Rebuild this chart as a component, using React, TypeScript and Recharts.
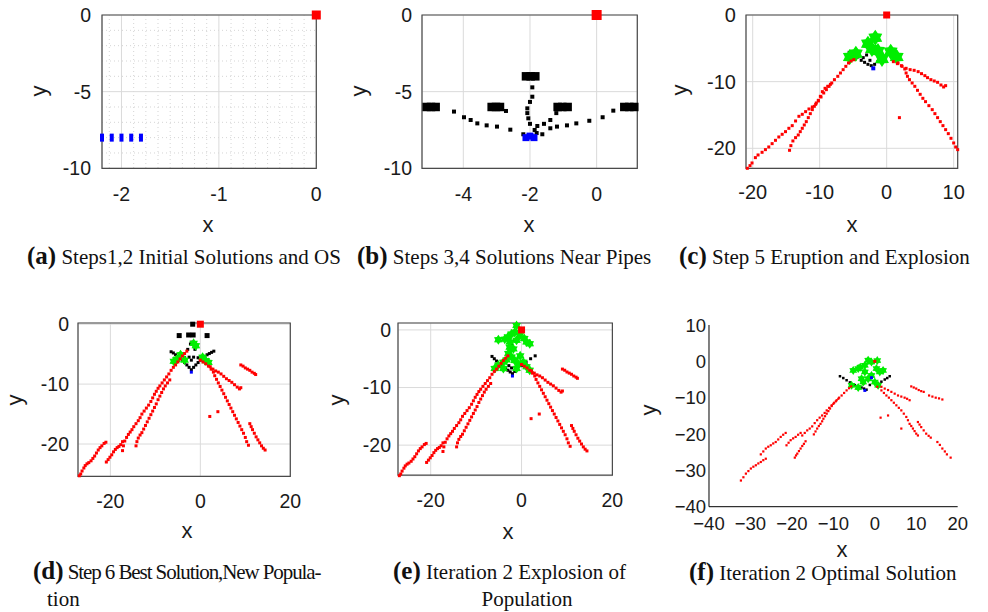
import { ScatterChart, Scatter, XAxis, YAxis, CartesianGrid, ReferenceArea } from "recharts";

type Pt = [number, number];

// (a) Steps 1,2 – initial solutions and optimal solution (OS)
const aCandidates: Pt[] = [[-2.2, -8], [-2.1, -8], [-2, -8], [-1.9, -8], [-1.8, -8]];
const aOptimal: Pt[] = [[0, 0]];
const aXTicks = [-2, -1, 0];
const aYTicks = [-10, -5, 0];
const aMinorX = [-2.125, -1.875, -1.75, -1.625, -1.5, -1.375, -1.25, -1.125, -0.875, -0.75, -0.625, -0.5, -0.375, -0.25, -0.125];
const aMinorY = [-9, -8, -7, -6, -4, -3, -2, -1];

// (b) Steps 3,4 – solutions near pipes
const bPipes: Pt[] = [
  [-5.1, -6], [-4.97, -6], [-4.83, -6], [-3.15, -6], [-3.02, -6], [-2.9, -6],
  [-2.12, -4], [-1.98, -4], [-1.84, -4], [-1.17, -6], [-1.03, -6], [-0.87, -6],
  [0.83, -6], [0.98, -6], [1.13, -6],
];
const bNear: Pt[] = [
  [-4.28, -6.3], [-3.98, -6.67], [-3.78, -6.85], [-3.58, -7.07], [-3.3, -7.2], [-2.99, -7.28],
  [-2.59, -7.48], [-2.2, -7.78], [-1.63, -7.78], [-1.39, -7.39], [-1.19, -7.28], [-0.89, -7.2],
  [-0.61, -7.07], [-0.22, -6.9], [0.18, -6.67], [0.5, -6.24], [-2.72, -6.26],
  [-1.93, -4.72], [-1.93, -5.33], [-2, -5.67], [-2.08, -6.09], [-2.08, -6.4], [-2.05, -6.74],
  [-2, -7.1], [-1.21, -6.4], [-1.39, -6.85], [-1.58, -7.1], [-1.78, -7.24], [-1.86, -7.5], [-1.8, -7.7],
];
const bBlue: Pt[] = [[-2.12, -8], [-2, -7.9], [-1.88, -8]];
const bOptimal: Pt[] = [[0, 0]];
const bXTicks = [-4, -2, 0];
const bYTicks = [-10, -5, 0];

// (c) Step 5 – eruption and explosion
const cRedLeftOuter: Pt[] = [
  [-20.8, -23], [-20.4, -22.6], [-20.1, -22.2], [-19.6, -21.4], [-19.2, -21], [-18.6, -20.6],
  [-18.1, -20.2], [-17.6, -19.8], [-17.1, -19.3], [-16.6, -18.8], [-16.1, -18.3], [-15.6, -17.9],
  [-15.1, -17.5], [-14.6, -17], [-14.1, -16.6], [-13.6, -15.9], [-13.1, -15.2], [-12.6, -14.9],
  [-12.1, -14.5], [-11.6, -14.1], [-11.1, -13.8], [-10.6, -13.4], [-10.2, -12.9], [-9.8, -12.3],
  [-9.4, -11.7], [-9, -11.2], [-8.6, -10.7], [-8.2, -10.2], [-7.8, -9.7], [-7.3, -9.2],
  [-6.9, -8.7], [-6.5, -8.2], [-6.1, -7.7], [-5.7, -7.2], [-5.3, -6.9], [-4.9, -6.7],
];
const cRedLeftInner: Pt[] = [
  [-14.5, -20.3], [-14.3, -19.6], [-14, -18.9], [-13.6, -18.4], [-13.2, -18], [-12.9, -17.5],
  [-12.6, -17], [-12.3, -16.5], [-12, -16], [-11.7, -15.4], [-11.4, -14.8], [-11.1, -14.2],
  [-10.8, -13.7], [-10.5, -13.2], [-10.2, -12.8], [-9.9, -12.2], [-9.6, -11.5], [-9.2, -11],
  [-8.8, -10.7], [-8.4, -10.4],
];
const cRedRightSteep: Pt[] = [
  [1, -7], [1.6, -7.3], [2.2, -7.6], [2.7, -8.1], [2.9, -8.7], [3.1, -9.2], [3.4, -9.7],
  [3.8, -10.2], [4.2, -10.7], [4.6, -11.3], [5, -11.9], [5.4, -12.5], [5.8, -13], [6.3, -13.6],
  [6.8, -14.2], [7.2, -14.8], [7.6, -15.4], [8, -16], [8.4, -16.6], [8.8, -17.2], [9.2, -17.8],
  [9.6, -18.5], [10, -19.2], [10.3, -19.8], [10.6, -20.2],
];
const cRedRightShallow: Pt[] = [
  [1.7, -7.2], [2.3, -7.7], [2.9, -8], [3.5, -8.2], [4.1, -8.3], [4.7, -8.5], [5.2, -8.8],
  [5.7, -9.1], [6.1, -9.4], [6.6, -9.7], [7.1, -9.9], [7.6, -10.1], [8.1, -10.5], [8.5, -10.8], [8.8, -10.6],
];
const cRedStray: Pt[] = [[1.9, -15.4]];
const cBlack: Pt[] = [
  [-5.6, -5.6], [-5, -6], [-4.3, -6.3], [-3.8, -6.8], [-3.3, -7.1], [-2.8, -7.4], [-2.3, -7.6],
  [-1.8, -7.4], [-1.3, -7], [-0.8, -6.6], [-3, -6], [-2.6, -5.4], [-2, -3.2], [-1.7, -3.2],
  [0.8, -5.4], [1.4, -5.6], [-3.5, -6.4], [-2.5, -6.8],
];
const cGreen: Pt[] = [
  [-5.5, -6.3], [-4.6, -5.8], [-2.8, -4.3], [-1.7, -3.4], [-1.3, -5.4], [-0.7, -6.6],
  [0.6, -5.5], [1.5, -6.3], [-2.2, -5.1],
];
const cBlue: Pt[] = [[-2, -8]];
const cOptimal: Pt[] = [[0, 0]];
const cXTicks = [-20, -10, 0, 10];
const cYTicks = [-20, -10, 0];

// (d),(e) shared explosion trails
const deRedFarLeft: Pt[] = [
  [-26.9, -25.3], [-26.6, -25], [-26.3, -24.5], [-25.9, -24], [-25.6, -23.6], [-25.2, -23.3],
  [-24.8, -23.1], [-24.3, -22.8], [-23.9, -22.4], [-23.5, -22], [-23.1, -21.5], [-22.7, -21],
  [-22.3, -20.6], [-21.9, -20.3], [-21.4, -19.9], [-21, -19.7],
];
const deRedSecond: Pt[] = [
  [-20.9, -23], [-20.5, -22.6], [-20.1, -22.2], [-19.7, -21.8], [-19.3, -21.3], [-18.9, -20.9],
  [-18.5, -20.6], [-18.1, -20.4], [-17.7, -20.1], [-17.3, -19.6],
];
const deRedLeftOuter: Pt[] = [
  [-17.3, -21.1], [-17.1, -20.3], [-16.8, -19.5], [-16.4, -18.9], [-16, -18.4], [-15.6, -18],
  [-15.2, -17.6], [-14.8, -17.1], [-14.3, -16.6], [-13.8, -16.1], [-13.4, -15.6], [-13, -15],
  [-12.5, -14.5], [-12, -14], [-11.5, -13.5], [-11, -12.9], [-10.6, -12.3], [-10.2, -11.7],
  [-9.8, -11.2], [-9.4, -10.7], [-9, -10.3], [-8.5, -9.8], [-8, -9.3], [-7.5, -8.8], [-7, -8.3],
  [-6.5, -7.7], [-6, -7.2], [-5.5, -6.8], [-5, -6.3], [-4.5, -5.8], [-4, -5.3], [-3.5, -4.9], [-3, -4.5],
];
const deRedLeftInner: Pt[] = [
  [-14.3, -20.3], [-14.1, -19.6], [-13.8, -19], [-13.4, -18.5], [-13, -18.1], [-12.6, -17.5],
  [-12.2, -16.9], [-11.8, -16.3], [-11.4, -15.7], [-11, -15.1], [-10.6, -14.5], [-10.2, -13.9],
  [-9.8, -13.3], [-9.4, -12.6], [-9, -12], [-8.6, -11.4], [-8.2, -10.8], [-7.8, -10.3], [-7.3, -9.8], [-6.8, -9.3],
];
const deRedRightSteep: Pt[] = [
  [0, -6], [0.6, -6.3], [1.2, -6.6], [1.8, -7], [2.4, -7.5], [2.9, -8], [3.2, -8.6], [3.6, -9.2],
  [4, -9.8], [4.4, -10.4], [4.8, -11], [5.2, -11.6], [5.6, -12.2], [6, -12.8], [6.4, -13.4],
  [6.8, -14], [7.2, -14.6], [7.6, -15.2], [8, -15.8], [8.4, -16.4], [8.8, -17], [9.2, -17.6],
  [9.6, -18.2], [10, -18.9], [10.3, -19.6], [10.7, -20.2],
];
const deRedRightShallow: Pt[] = [
  [2.2, -7.1], [2.8, -7.5], [3.4, -7.8], [4, -8], [4.6, -8.3], [5.2, -8.7], [5.8, -9.1],
  [6.4, -9.4], [7, -9.7], [7.6, -10.1], [8.2, -10.5], [8.7, -10.8], [9, -10.6],
];
const deRedRightUpper: Pt[] = [
  [9, -6.8], [9.5, -7], [10, -7.3], [10.5, -7.5], [11, -7.7], [11.5, -8], [12, -8.2], [12.3, -8.4],
];
const deRedRightLower: Pt[] = [
  [11, -16.6], [11.3, -17.1], [11.6, -17.6], [12, -18.2], [12.4, -18.8], [12.8, -19.3],
  [13.2, -19.8], [13.6, -20.3], [14, -20.7], [14.4, -21],
];
const deRedStray: Pt[] = [[2.1, -15.4], [3.9, -14.6]];
const deXTicks = [-20, 0, 20];
const deYTicks = [-20, -10, 0];

// (d) Step 6 – best solution, new population
const dPipes: Pt[] = [[-4.7, -1.9], [-2.6, -1.8], [-1.6, -1.8], [1.5, -1.9], [-1.7, 0]];
const dBlack: Pt[] = [
  [-6.5, -4.6], [-6, -4.8], [-5.5, -5.1], [-5, -5.4], [-4.5, -5.7], [-4, -6], [-3.5, -6.4],
  [-3, -6.8], [-2.5, -7.2], [-2, -7.6], [-1.5, -7.2], [-1, -6.8], [-0.5, -6.4], [0, -6],
  [0.5, -5.7], [1, -5.4], [1.5, -5.1], [2, -4.9], [2.5, -4.7], [3, -4.5], [-2.2, -3.3],
  [-1.9, -3], [-2.5, -5.5], [-1.5, -5.5], [-2, -6], [-2.8, -4.2], [-1.2, -4.2], [-3.5, -5.6], [-0.5, -5.6],
];
const dGreen: Pt[] = [
  [-5.9, -6.2], [-5.3, -5.9], [-4.4, -5.1], [-1.5, -3.2], [-1, -3.6], [1.2, -6.1], [1.8, -6.4],
  [-3.5, -6], [0.5, -5.5],
];
const dBlue: Pt[] = [[-2, -8]];
const dOptimal: Pt[] = [[0, 0]];

// (e) Iteration 2 – explosion of population
const eGreen: Pt[] = [
  [-1.1, 0.75], [-1.5, -0.4], [-2.2, -0.7], [-3.7, -1.6], [-5.1, -1.7], [-2.6, -2.1], [-1.1, -1.8],
  [1.1, -2.1], [1.8, -2.4], [-1.8, -3.3], [-2.9, -4.1], [-2.2, -4.7], [-1.5, -5.3], [-4, -5.6],
  [-5.1, -6.1], [-5.9, -6.7], [-0.7, -5.9], [0.4, -5.6], [1.1, -6.4], [1.8, -7], [-4, -6.7],
  [-1.1, -6.7], [-0.4, -1], [0.6, -1.5], [-3, -1.2], [-2.6, -3], [-3.3, -5.2], [-0.3, -4.5],
];
const eBlack: Pt[] = [
  [-6.5, -4.6], [-6, -5], [-5.5, -5.4], [-4.5, -6], [-3.5, -6.6], [-3, -7], [-2.5, -7.3],
  [-2, -7.6], [-1.5, -7.2], [-1, -6.8], [0, -6.2], [1, -5.6], [2, -5], [3, -4.5], [-2.6, -1.8],
  [-1.5, -1.7], [-2.2, -2.5], [-2.8, -6.2], [-2.2, -6.6],
];
const eBlue: Pt[] = [[-2, -8]];
const eOptimal: Pt[] = [[0, 0]];

// (f) Iteration 2 – optimal solution
const fRedLeft: Pt[] = [
  [-32.3, -32.8], [-31.7, -31.9], [-31.1, -30.9], [-30.5, -30.2], [-29.9, -29.5], [-29.3, -29],
  [-28.7, -28.6], [-28.1, -28.1], [-27.5, -27.7], [-26.9, -27.2], [-26.3, -26.8],
  [-27.5, -25.6], [-26.9, -24.8], [-26.3, -24], [-25.7, -23.5], [-25.1, -23.1], [-24.5, -22.6],
  [-23.9, -22.2], [-23.3, -21.5], [-22.7, -20.8], [-22.1, -20.2], [-21.5, -19.7],
  [-21.3, -23.1], [-20.8, -22.4], [-20.3, -21.7], [-19.7, -21.2], [-19.1, -20.8], [-18.5, -20.2], [-17.9, -19.7],
  [-19.3, -26.5], [-19, -25.9], [-18.7, -25.4], [-18.3, -24.7], [-17.9, -24], [-17.5, -23.3], [-17.1, -22.7], [-16.7, -22],
];
const fRedMain: Pt[] = [
  [-17.5, -20.4], [-16.9, -19.7], [-16.3, -19], [-15.7, -18.5], [-15.1, -17.9], [-14.5, -17],
  [-13.9, -16.2], [-13.3, -15.5], [-12.7, -14.9], [-12.1, -14.2], [-11.6, -13.5], [-11, -12.8],
  [-10.4, -12.1], [-9.8, -11.4], [-9.2, -10.7], [-8.6, -10], [-8, -9.4], [-7.4, -8.7], [-6.8, -8],
  [-6.2, -7.4], [-5.7, -6.9],
  [-14.7, -20.1], [-14.3, -19.3], [-13.9, -18.5], [-13.5, -17.8], [-13.1, -17.2], [-12.7, -16.5],
  [-12.4, -15.8], [-12, -15.1], [-11.6, -14.4], [-11.2, -13.7], [-10.8, -13], [-10.4, -12.3],
  [-10, -11.7], [-9.4, -11], [-8.8, -10.3],
];
const fRedRight: Pt[] = [
  [0.6, -7], [1.6, -8], [2.2, -8.7], [2.8, -9.4], [3.4, -10], [4, -10.7], [4.6, -11.4], [5.2, -12.1],
  [5.8, -12.8], [6.4, -13.5], [7, -14.4], [7.6, -15.3], [8, -16.2], [8.4, -17.2], [8.8, -17.8],
  [9.2, -18.5], [9.6, -19.2], [10, -19.9], [10.4, -20.4],
  [1.6, -7], [2.4, -7.5], [3.2, -7.9], [4, -8.4], [4.8, -8.9], [5.6, -9.4], [6.4, -9.7], [7.2, -10],
  [7.8, -10.3], [8.4, -10.7],
  [8.8, -6.9], [9.4, -7.2], [10, -7.5], [10.6, -7.9], [11.2, -8.2], [11.8, -8.4], [13.1, -9.4],
  [13.9, -9.7], [14.7, -10], [15.5, -10.2], [16.3, -10.5],
  [10.4, -16.7], [10.8, -17.4], [11.2, -18.1], [11.8, -19], [12.4, -19.9], [13, -20.5], [13.5, -21],
  [15.1, -22.2], [15.7, -23], [16.3, -24], [16.9, -24.8], [17.4, -25.6], [18.3, -26.5],
  [1.4, -15.5], [3.2, -14.9], [6.4, -18.5],
];
const fGreen: Pt[] = [
  [-4, -7.2], [-2.8, -5.7], [-1.6, -4.8], [0, -5.7], [0.8, -6.6], [-5.2, -2.5], [-4, -2],
  [-2.4, -1.1], [-1.6, 0.3], [-0.8, -0.2], [0.4, -2], [2, -2.5], [-2.4, -2.9], [-3.2, -4.8],
  [-0.8, -3.9], [-5.6, -6.6], [1.2, -2.9], [-3.5, -1.6], [0.6, 0.2],
];
const fBlack: Pt[] = [
  [-8.4, -4.1], [-7.6, -4.6], [-6.8, -5.2], [-6, -5.8], [-4.8, -6.6], [-4, -6.9], [-3.2, -7.2],
  [-2.6, -7.5], [-2, -7.8], [0.8, -6.1], [1.6, -5.6], [2.4, -5], [3, -4.6], [3.6, -4.1],
  [-1.2, -6.5], [-2.8, -6.2],
];
const fBlue: Pt[] = [[-2.4, -8], [-0.8, -4.5]];
const fOptimal: Pt[] = [[0, 0]];
const fXTicks = [-40, -30, -20, -10, 0, 10, 20];
const fYTicks = [-40, -30, -20, -10, 0, 10];

const RED = "#ff0000";
const BLUE = "#0000ff";
const GREEN = "#00ee00";
const BLACK = "#000000";

const toData = (arr: Pt[]) => arr.map(([x, y]) => ({ x, y }));

const sq = (s: number, fill: string) => (p: any) => (
  <rect x={p.cx - s / 2} y={p.cy - s / 2} width={s} height={s} fill={fill} />
);
const bar = (w: number, h: number, fill: string) => (p: any) => (
  <rect x={p.cx - w / 2} y={p.cy - h / 2} width={w} height={h} fill={fill} />
);
const star = (r: number, fill: string) => (p: any) => {
  const pts: string[] = [];
  for (let i = 0; i < 12; i++) {
    const rad = i % 2 === 0 ? r : r * 0.62;
    const a = (Math.PI / 6) * i - Math.PI / 2;
    pts.push(`${p.cx + rad * Math.cos(a)},${p.cy + rad * Math.sin(a)}`);
  }
  return <polygon points={pts.join(" ")} fill={fill} />;
};

type Layer = { data: Pt[]; shape: (p: any) => any };

type PanelProps = {
  x0: number; y0: number; x1: number; y1: number;
  xDomain: [number, number]; yDomain: [number, number];
  xTicks: number[]; yTicks: number[];
  layers: Layer[];
  fontSize: number; xGap: number; yGap: number;
  grid?: boolean; minorX?: number[]; minorY?: number[];
  box?: boolean; unicodeMinus?: boolean;
};

const PAD_L = 80;
const PAD_T = 12;
const PAD_R = 14;
const PAD_B = 44;
const SANS = "'Liberation Sans', Arial, Helvetica, sans-serif";
const SERIF = "'Liberation Serif', 'Times New Roman', serif";

function Panel(p: PanelProps) {
  const w = p.x1 - p.x0;
  const h = p.y1 - p.y0;
  const fmt = (v: number) => (p.unicodeMinus ? String(v).replace("-", "\u2212") : String(v));
  const tick = { fontSize: p.fontSize, fill: "#1a1a1a", fontFamily: SANS };
  return (
    <div style={{ position: "absolute", left: p.x0 - PAD_L, top: p.y0 - PAD_T }}>
      <ScatterChart
        width={w + PAD_L + PAD_R}
        height={h + PAD_T + PAD_B}
        margin={{ top: PAD_T, right: PAD_R, bottom: 0, left: 0 }}
      >
        {p.minorX && (
          <CartesianGrid verticalValues={p.minorX} horizontalValues={p.minorY} stroke="#d4d4d4" strokeDasharray="1 3" />
        )}
        {p.grid && <CartesianGrid stroke="#dadada" />}
        <XAxis
          type="number" dataKey="x" domain={p.xDomain} ticks={p.xTicks} interval={0}
          height={PAD_B} tickSize={0} tickMargin={p.xGap} tick={tick} tickFormatter={fmt}
          tickLine={false} axisLine={p.box ? false : { stroke: "#000" }}
        />
        <YAxis
          type="number" dataKey="y" domain={p.yDomain} ticks={p.yTicks} interval={0}
          width={PAD_L} tickSize={0} tickMargin={p.yGap} tick={tick} tickFormatter={fmt}
          tickLine={false} axisLine={p.box ? false : { stroke: "#000" }}
        />
        {p.box && (
          <ReferenceArea
            x1={p.xDomain[0]} x2={p.xDomain[1]} y1={p.yDomain[0]} y2={p.yDomain[1]}
            fill="none" fillOpacity={0} stroke="#4a4a4a" strokeWidth={1.2}
          />
        )}
        {p.layers.map((l, i) => (
          <Scatter key={i} data={toData(l.data)} shape={l.shape} isAnimationActive={false} />
        ))}
      </ScatterChart>
    </div>
  );
}

const AXIS_LABELS = [
  { t: "x", x: 208, y: 226, rot: false }, { t: "y", x: 43, y: 91, rot: true },
  { t: "x", x: 529, y: 226, rot: false }, { t: "y", x: 363, y: 91, rot: true },
  { t: "x", x: 852, y: 226, rot: false }, { t: "y", x: 684, y: 90, rot: true },
  { t: "x", x: 187, y: 532, rot: false }, { t: "y", x: 19, y: 400, rot: true },
  { t: "x", x: 508, y: 533, rot: false }, { t: "y", x: 341, y: 400, rot: true },
  { t: "x", x: 842, y: 551, rot: false }, { t: "y", x: 653, y: 410, rot: true },
];

const CAPTIONS = [
  { tag: "(a)", text: " Steps1,2 Initial Solutions and OS", x: 27, y: 264, len: 0 },
  { tag: "(b)", text: " Steps 3,4 Solutions Near Pipes", x: 357, y: 264, len: 0 },
  { tag: "(c)", text: " Step 5 Eruption and Explosion", x: 679, y: 264, len: 0 },
  { tag: "(d)", text: " Step 6 Best Solution,New Popula-", x: 33, y: 579, len: 258 },
  { tag: "(e)", text: " Iteration 2 Explosion of", x: 393, y: 579, len: 0 },
  { tag: "(f)", text: " Iteration 2 Optimal Solution", x: 689, y: 580, len: 0 },
];

export default function App() {
  const deRed = [
    ...deRedFarLeft, ...deRedSecond, ...deRedLeftOuter, ...deRedLeftInner,
    ...deRedRightSteep, ...deRedRightShallow, ...deRedRightUpper, ...deRedRightLower, ...deRedStray,
  ];
  return (
    <div style={{ position: "absolute", left: 0, top: 0, width: 988, height: 612, background: "#fff" }}>
      <Panel
        x0={101.7} y0={15} x1={316} y1={168.3} xDomain={[-2.2, 0]} yDomain={[-10, 0]}
        xTicks={aXTicks} yTicks={aYTicks} minorX={aMinorX} minorY={aMinorY} grid box
        fontSize={19.5} xGap={19} yGap={11}
        layers={[{ data: aCandidates, shape: bar(4, 8, BLUE) }, { data: aOptimal, shape: sq(9, RED) }]}
      />
      <Panel
        x0={422} y0={15} x1={637.3} y1={168.3} xDomain={[-5.24, 1.22]} yDomain={[-10, 0]}
        xTicks={bXTicks} yTicks={bYTicks} grid box fontSize={19.5} xGap={19} yGap={10}
        layers={[
          { data: bNear, shape: sq(4, BLACK) },
          { data: bPipes, shape: sq(8.5, BLACK) },
          { data: bBlue, shape: sq(7, BLUE) },
          { data: bOptimal, shape: sq(10, RED) },
        ]}
      />
      <Panel
        x0={746} y0={15} x1={957.7} y1={168.3} xDomain={[-21, 10.6]} yDomain={[-23, 0]}
        xTicks={cXTicks} yTicks={cYTicks} grid box fontSize={20} xGap={17} yGap={10}
        layers={[
          { data: cBlack, shape: sq(3, BLACK) },
          { data: cBlue, shape: sq(4, BLUE) },
          { data: cGreen, shape: star(8, GREEN) },
          { data: [...cRedLeftOuter, ...cRedLeftInner, ...cRedRightSteep, ...cRedRightShallow, ...cRedStray], shape: sq(3, RED) },
          { data: cOptimal, shape: sq(7, RED) },
        ]}
      />
      <Panel
        x0={77.7} y0={323.3} x1={290} y1={476.7} xDomain={[-27.2, 20]} yDomain={[-25.4, 0.2]}
        xTicks={deXTicks} yTicks={deYTicks} grid box fontSize={19.5} xGap={18} yGap={9}
        layers={[
          { data: dBlack, shape: sq(3, BLACK) },
          { data: dPipes, shape: sq(5, BLACK) },
          { data: dGreen, shape: star(5, GREEN) },
          { data: dBlue, shape: sq(3, BLUE) },
          { data: deRed, shape: sq(3, RED) },
          { data: dOptimal, shape: sq(7, RED) },
        ]}
      />
      <Panel
        x0={398.3} y0={323.3} x1={612.7} y1={476} xDomain={[-27.2, 20]} yDomain={[-25.2, 1.2]}
        xTicks={deXTicks} yTicks={deYTicks} grid box fontSize={19.5} xGap={17} yGap={7}
        layers={[
          { data: eBlack, shape: sq(3, BLACK) },
          { data: eBlue, shape: sq(3, BLUE) },
          { data: eGreen, shape: star(5, GREEN) },
          { data: deRed, shape: sq(3, RED) },
          { data: eOptimal, shape: sq(7, RED) },
        ]}
      />
      <Panel
        x0={709.3} y0={325} x1={958} y1={506.7} xDomain={[-40, 20]} yDomain={[-40, 10]}
        xTicks={fXTicks} yTicks={fYTicks} fontSize={18.5} xGap={10} yGap={3} unicodeMinus
        layers={[
          { data: fBlack, shape: sq(2.5, BLACK) },
          { data: fGreen, shape: star(4.5, GREEN) },
          { data: fBlue, shape: sq(3, BLUE) },
          { data: [...fRedLeft, ...fRedMain, ...fRedRight], shape: sq(2.2, RED) },
          { data: fOptimal, shape: sq(3, RED) },
        ]}
      />
      <svg width={988} height={612} style={{ position: "absolute", left: 0, top: 0, pointerEvents: "none" }}>
        {AXIS_LABELS.map((l, i) =>
          l.rot ? (
            <text key={i} transform={`translate(${l.x},${l.y}) rotate(-90)`} textAnchor="middle" dy="0.15em"
              fontFamily={SANS} fontSize={22} fill="#1a1a1a">{l.t}</text>
          ) : (
            <text key={i} x={l.x} y={l.y} textAnchor="middle" dy="0.26em" fontFamily={SANS} fontSize={22} fill="#1a1a1a">{l.t}</text>
          )
        )}
        {CAPTIONS.map((c, i) => (
          <text key={i} x={c.x} y={c.y} fontFamily={SERIF} fill="#111">
            <tspan fontWeight="bold" fontSize={25}>{c.tag}</tspan>
            {c.len ? (
              <tspan fontSize={21} textLength={c.len} lengthAdjust="spacing">{c.text}</tspan>
            ) : (
              <tspan fontSize={21}>{c.text}</tspan>
            )}
          </text>
        ))}
        <text x={47} y={606} fontFamily={SERIF} fontSize={21} fill="#111">tion</text>
        <text x={527} y={606} textAnchor="middle" fontFamily={SERIF} fontSize={21} fill="#111">Population</text>
      </svg>
    </div>
  );
}
